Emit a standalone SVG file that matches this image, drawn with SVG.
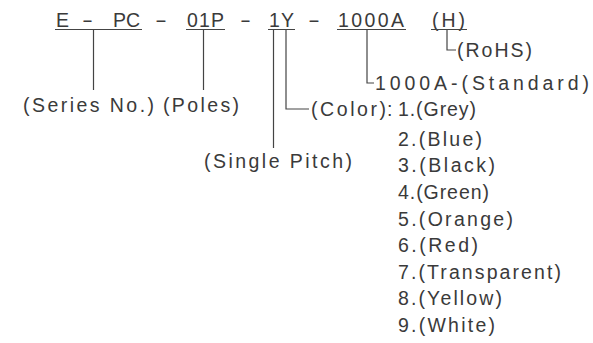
<svg xmlns="http://www.w3.org/2000/svg" width="593" height="343" viewBox="0 0 593 343">
<style>
text{font-family:"Liberation Sans",Arial,sans-serif;font-size:19.5px;fill:#3a3a3a;}
.ln{stroke:#444;stroke-width:1.2;fill:none;}
</style>
<rect width="593" height="343" fill="#fff"/>
<g id="code">
<text x="56" y="27">E</text>
<text x="82" y="27" textLength="11" lengthAdjust="spacingAndGlyphs">-</text>
<text x="113" y="27" textLength="27" lengthAdjust="spacing">PC</text>
<text x="155" y="27" textLength="12" lengthAdjust="spacingAndGlyphs">-</text>
<text x="187" y="27" textLength="37" lengthAdjust="spacing">01P</text>
<text x="240" y="27" textLength="11" lengthAdjust="spacingAndGlyphs">-</text>
<text x="269" y="27" textLength="25" lengthAdjust="spacing">1Y</text>
<text x="308" y="27" textLength="12" lengthAdjust="spacingAndGlyphs">-</text>
<text x="338" y="27" textLength="66" lengthAdjust="spacing">1000A</text>
<text x="432" y="27" textLength="33" lengthAdjust="spacing">(H)</text>
<path class="ln" d="M55 29.5H142M186 29.5H225M268 29.5H295M337 29.5H406M431 29.5H467"/>
</g>
<g id="rohs"><text x="457" y="57" textLength="75" lengthAdjust="spacing">(RoHS)</text></g>
<g id="standard"><text x="375" y="90" textLength="214" lengthAdjust="spacing">1000A-(Standard)</text></g>
<g id="series"><text x="23" y="112" textLength="131" lengthAdjust="spacing">(Series No.)</text></g>
<g id="poles"><text x="163" y="112" textLength="76" lengthAdjust="spacing">(Poles)</text></g>
<g id="pitch"><text x="204" y="168" textLength="148" lengthAdjust="spacing">(Single Pitch)</text></g>
<g id="color">
<text x="311" y="116" textLength="75" lengthAdjust="spacing">(Color)</text>
<text x="387" y="116">:</text>
<text x="398" y="116" textLength="78" lengthAdjust="spacing">1.(Grey)</text>
<text x="398" y="146" textLength="84" lengthAdjust="spacing">2.(Blue)</text>
<text x="398" y="172" textLength="97" lengthAdjust="spacing">3.(Black)</text>
<text x="398" y="199" textLength="91" lengthAdjust="spacing">4.(Green)</text>
<text x="398" y="226" textLength="115" lengthAdjust="spacing">5.(Orange)</text>
<text x="398" y="252" textLength="80" lengthAdjust="spacing">6.(Red)</text>
<text x="398" y="279" textLength="163" lengthAdjust="spacing">7.(Transparent)</text>
<text x="398" y="305" textLength="104" lengthAdjust="spacing">8.(Yellow)</text>
<text x="398" y="332" textLength="97" lengthAdjust="spacing">9.(White)</text>
</g>
<g id="connectors">
<path class="ln" d="M93.5 30V90"/>
<path class="ln" d="M203.5 30V90"/>
<path class="ln" d="M273.5 30V148"/>
<path class="ln" d="M286 30V109H309"/>
<path class="ln" d="M367 30V83H374"/>
<path class="ln" d="M447 30V50H456"/>
</g>
</svg>
